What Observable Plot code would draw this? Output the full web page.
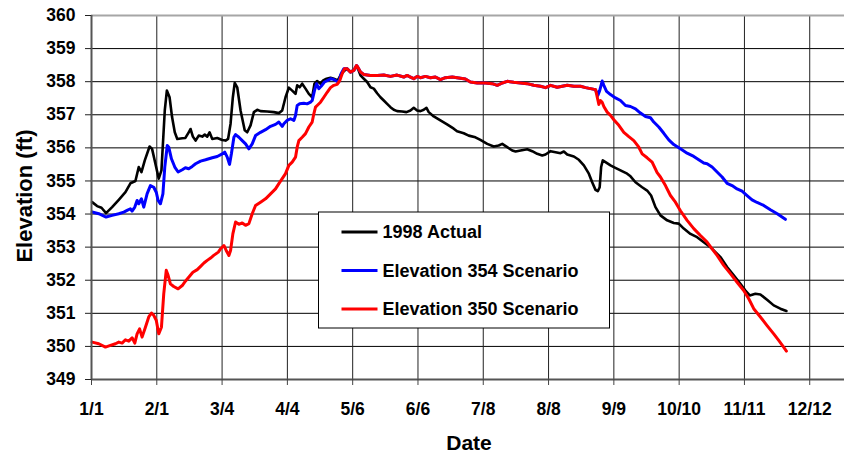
<!DOCTYPE html>
<html>
<head>
<meta charset="utf-8">
<script src="https://cdn.jsdelivr.net/npm/d3@7"></script>
<script src="https://cdn.jsdelivr.net/npm/@observablehq/plot@0.6"></script>
<style>
  html, body { margin: 0; padding: 0; background: #fff; }
  svg { display: block; }
</style>
</head>
<body>
<div id="chart"></div>
<script>
// ---- Data (x = days after 1/1/1998, y = elevation in ft) ----
const xTickLabels = ["1/1","2/1","3/4","4/4","5/6","6/6","7/8","8/8","9/9","10/10","11/11","12/12"];
const yTicks = [349,350,351,352,353,354,355,356,357,358,359,360];
const seriesNames = ["1998 Actual","Elevation 354 Scenario","Elevation 350 Scenario"];
const seriesColors = ["#000000","#0000ff","#ff0000"];

const actual1998 = [
[0.3,354.36],[2.7,354.24],[4.8,354.19],[7.0,354.03],[9.9,354.21],[13.1,354.43],[16.3,354.66],[18.7,354.93],[21.1,355.0],[22.7,355.42],[24.0,355.27],[25.6,355.62],[27.9,356.04],[29.1,355.97],[30.7,355.52],[32.3,355.07],[33.6,355.32],[35.2,357.13],[36.2,357.73],[37.5,357.53],[38.7,356.93],[40.0,356.47],[41.2,356.27],[43.6,356.29],[45.1,356.30],[46.7,356.47],[47.6,356.57],[48.7,356.34],[50.0,356.22],[51.5,356.37],[53.2,356.34],[54.4,356.40],[55.6,356.34],[56.7,356.47],[58.0,356.27],[60.4,356.30],[62.8,356.24],[64.4,356.22],[65.6,356.27],[66.8,356.73],[67.9,357.53],[68.8,357.96],[70.0,357.83],[71.6,357.13],[73.6,356.53],[74.8,356.47],[76.4,356.68],[78.0,357.08],[79.6,357.15],[81.2,357.11],[84.4,357.10],[87.6,357.08],[90.0,357.05],[91.6,357.13],[93.2,357.53],[94.8,357.82],[96.4,357.73],[98.0,357.63],[98.8,357.89],[100.0,357.83],[101.2,357.94],[102.8,357.79],[104.4,357.63],[106.0,357.53],[107.1,357.94],[108.4,358.02],[110.0,357.94],[111.3,358.04],[112.9,358.09],[114.8,358.12],[116.4,358.09],[118.3,358.04],[119.6,358.19],[121.2,358.32],[122.8,358.39],[124.4,358.29],[126.0,358.36],[127.6,358.46],[129.2,358.19],[130.8,358.09],[132.4,357.99],[134.0,357.83],[135.6,357.79],[137.2,357.65],[138.8,357.53],[140.4,357.43],[142.0,357.33],[143.6,357.23],[145.2,357.15],[146.8,357.11],[149.2,357.10],[151.3,357.08],[153.2,357.13],[154.8,357.21],[156.4,357.13],[158.0,357.11],[159.6,357.15],[160.9,357.21],[162.0,357.08],[164.4,356.95],[167.6,356.83],[170.8,356.71],[174.0,356.58],[175.6,356.50],[178.8,356.44],[181.2,356.37],[184.4,356.32],[186.8,356.24],[190.1,356.12],[193.2,356.04],[195.6,356.07],[197.3,356.12],[199.7,356.02],[202.1,355.92],[203.7,355.89],[206.1,355.92],[209.3,355.96],[211.7,355.90],[214.1,355.82],[216.5,355.77],[218.1,355.80],[220.5,355.90],[222.9,355.87],[225.3,355.84],[226.9,355.89],[228.5,355.80],[231.7,355.74],[234.1,355.64],[236.5,355.47],[238.9,355.22],[240.5,354.96],[242.1,354.73],[243.2,354.69],[244.1,354.81],[244.8,355.42],[245.6,355.62],[246.9,355.57],[249.3,355.47],[250.9,355.42],[254.1,355.32],[257.3,355.22],[258.9,355.14],[261.3,354.96],[264.5,354.81],[266.9,354.71],[268.8,354.56],[270.9,354.21],[273.3,353.96],[276.5,353.81],[279.7,353.73],[282.1,353.71],[284.5,353.56],[287.7,353.40],[290.9,353.30],[294.1,353.15],[297.3,353.00],[299.7,352.85],[302.1,352.70],[305.3,352.40],[308.5,352.15],[311.7,351.89],[314.1,351.69],[316.2,351.54],[318.9,351.59],[321.3,351.57],[324.5,351.41],[327.7,351.24],[330.9,351.14],[333.8,351.07]
];

const scenario354 = [
[0.3,354.06],[3.5,354.01],[7.0,353.91],[9.9,353.96],[13.1,354.01],[15.5,354.06],[17.1,354.11],[18.7,354.16],[19.5,354.09],[20.8,354.21],[21.9,354.41],[22.7,354.31],[24.0,354.46],[25.1,354.21],[26.7,354.61],[28.3,354.86],[29.9,354.81],[31.1,354.66],[32.0,354.41],[33.1,354.31],[34.3,354.61],[35.2,355.42],[36.4,356.07],[37.1,356.02],[38.4,355.67],[40.0,355.42],[41.6,355.27],[43.6,355.34],[45.1,355.40],[46.7,355.37],[48.4,355.44],[50.0,355.52],[52.4,355.60],[54.8,355.64],[58.0,355.70],[60.4,355.74],[62.8,355.82],[64.0,355.87],[65.2,355.72],[66.3,355.50],[67.2,355.82],[68.4,356.32],[69.2,356.40],[70.8,356.32],[72.4,356.22],[74.0,356.12],[75.6,355.97],[77.2,356.12],[78.8,356.37],[81.2,356.47],[83.6,356.55],[86.0,356.65],[88.4,356.71],[90.0,356.78],[91.6,356.65],[92.4,356.73],[94.0,356.83],[95.6,356.88],[97.2,356.83],[98.0,356.98],[98.8,357.28],[100.0,357.33],[102.0,357.35],[103.6,357.33],[105.2,357.38],[106.0,357.43],[107.1,357.73],[108.1,357.94],[109.2,357.79],[110.3,357.86],[111.9,357.99],[113.5,358.04],[115.1,358.09],[116.4,358.06],[117.7,358.02],[118.8,357.99],[119.9,358.24],[121.2,358.39],
[122.8,358.39],[124.4,358.29],[126.0,358.34],[127.3,358.49],[127.9,358.44],[129.2,358.29],[130.8,358.22],[134.0,358.19],[137.2,358.19],[140.4,358.20],[143.6,358.16],[146.8,358.20],[150.0,358.14],[151.6,358.19],[153.2,358.14],[154.8,358.09],[156.4,358.16],[158.0,358.12],[160.4,358.16],[162.8,358.12],[165.2,358.14],[167.6,358.06],[170.0,358.12],[173.3,358.14],[176.4,358.11],[179.6,358.08],[182.0,357.99],[185.3,357.96],[189.2,357.96],[192.5,357.94],[194.9,357.89],[197.3,357.96],[199.7,358.01],[202.8,357.98],[206.1,357.96],[209.3,357.94],[212.4,357.89],[215.7,357.86],[218.1,357.82],[220.5,357.89],[223.7,357.83],[226.1,357.86],[228.5,357.89],[231.7,357.86],[234.9,357.86],[237.3,357.82],[239.7,357.79],[242.1,357.76],
[243.2,357.58],[244.1,357.73],[245.3,358.02],[246.1,357.89],[247.4,357.71],[249.3,357.61],[251.7,357.51],[254.1,357.43],[256.5,357.28],[258.9,357.25],[261.3,357.18],[263.7,357.05],[266.1,356.95],[268.5,356.91],[270.1,356.78],[272.5,356.63],[274.9,356.44],[277.3,356.24],[279.7,356.10],[282.9,355.97],[286.1,355.84],[289.3,355.74],[291.7,355.64],[294.1,355.54],[295.7,355.52],[298.1,355.42],[300.5,355.27],[302.9,355.12],[305.3,354.93],[307.7,354.86],[310.1,354.76],[312.5,354.69],[314.9,354.56],[317.3,354.43],[319.7,354.35],[322.9,354.26],[326.1,354.13],[329.4,354.01],[331.7,353.91],[333.3,353.84]
];

const scenario350 = [
[0.3,350.13],[3.5,350.08],[6.7,349.98],[9.1,350.03],[11.5,350.08],[13.1,350.13],[14.7,350.10],[16.3,350.20],[17.9,350.16],[19.5,350.26],[20.8,350.10],[21.9,350.38],[23.1,350.53],[24.3,350.28],[25.9,350.58],[27.5,350.89],[28.8,351.01],[29.9,350.94],[31.1,350.79],[32.3,350.38],[33.6,350.58],[34.7,351.59],[35.9,352.30],[36.8,352.15],[37.9,351.89],[39.5,351.81],[41.6,351.74],[43.6,351.84],[45.1,351.97],[46.7,352.09],[48.7,352.24],[50.8,352.32],[52.4,352.42],[54.0,352.52],[55.6,352.60],[57.2,352.67],[58.7,352.75],[60.9,352.85],[62.0,352.95],[63.6,353.05],[64.7,352.90],[66.0,352.75],[66.8,352.90],[67.9,353.40],[69.2,353.76],[70.8,353.69],[72.4,353.73],[74.0,353.66],[75.6,353.71],[77.2,354.01],[78.8,354.26],[81.2,354.36],[83.6,354.46],[86.0,354.61],[88.4,354.76],[90.0,354.92],[91.6,355.07],[93.2,355.22],[94.8,355.47],[96.4,355.57],[98.0,355.72],[98.8,356.02],[99.6,356.22],[101.2,356.32],[102.8,356.43],[104.4,356.63],[106.0,356.78],[106.8,357.03],[107.6,357.23],[108.4,357.28],[110.0,357.38],[111.6,357.53],[113.2,357.68],[114.8,357.82],[116.4,357.89],[118.0,357.92],[119.3,358.04],[120.4,358.24],[121.5,358.39],
[122.8,358.39],[124.4,358.29],[126.0,358.34],[127.3,358.49],[127.9,358.44],[129.2,358.29],[130.8,358.22],[134.0,358.19],[137.2,358.19],[140.4,358.20],[143.6,358.16],[146.8,358.20],[150.0,358.14],[151.6,358.19],[153.2,358.14],[154.8,358.09],[156.4,358.16],[158.0,358.12],[160.4,358.16],[162.8,358.12],[165.2,358.14],[167.6,358.06],[170.0,358.12],[173.3,358.14],[176.4,358.11],[179.6,358.08],[182.0,357.99],[185.3,357.96],[189.2,357.96],[192.5,357.94],[194.9,357.89],[197.3,357.96],[199.7,358.01],[202.8,357.98],[206.1,357.96],[209.3,357.94],[212.4,357.89],[215.7,357.86],[218.1,357.82],[220.5,357.89],[223.7,357.83],[226.1,357.86],[228.5,357.89],[231.7,357.86],[234.9,357.86],[237.3,357.82],[239.7,357.79],[242.1,357.76],
[242.6,357.63],[243.7,357.31],[244.5,357.43],[245.3,357.38],[246.1,357.25],[247.7,357.08],[249.3,356.98],[250.9,356.85],[253.3,356.68],[255.7,356.47],[258.1,356.34],[260.5,356.22],[262.9,356.02],[264.5,355.82],[266.9,355.70],[269.3,355.57],[271.7,355.25],[273.3,355.12],[275.7,354.86],[278.1,354.56],[280.5,354.36],[282.9,354.10],[286.1,353.81],[289.3,353.56],[292.5,353.35],[295.7,353.15],[298.1,352.95],[300.5,352.75],[303.7,352.45],[306.9,352.20],[310.1,351.94],[313.3,351.69],[315.7,351.44],[318.1,351.14],[321.3,350.89],[324.5,350.63],[327.7,350.38],[330.1,350.18],[332.2,350.00],[333.8,349.86]
];

// ---- Chart ----
const lastTickDay = 345;                       // 12/12
const xTickPos = xTickLabels.map((_, i) => i * lastTickDay / (xTickLabels.length - 1));
const xFmt = d => xTickLabels[xTickPos.indexOf(d)] ?? "";
const series = [actual1998, scenario354, scenario350];

const plot = Plot.plot({
  width: 844,
  height: 455,
  marginLeft: 91,
  marginRight: 0,
  marginTop: 15,
  marginBottom: 76,
  x: {domain: [0, 361.7]},
  y: {domain: [349, 360]},
  style: {fontFamily: "'Liberation Sans', Arial, sans-serif", fontWeight: "bold", background: "#fff", color: "#000", overflow: "visible"},
  marks: [
    Plot.gridY(yTicks.filter(v => v < 360), {stroke: "#000", strokeOpacity: 1, strokeWidth: 1}),
    Plot.gridX(xTickPos.slice(1), {stroke: "#222", strokeOpacity: 1, strokeWidth: 1}),
    Plot.ruleY([360], {stroke: "#a6a6a6", strokeWidth: 2}),
    ...series.map((s, i) => Plot.line(s, {
      x: d => d[0], y: d => d[1],
      stroke: seriesColors[i], strokeWidth: i === 0 ? 2.6 : 3,
      strokeLinejoin: "round", strokeLinecap: "round"
    })),
    Plot.ruleX([0], {stroke: "#555", strokeWidth: 2}),
    Plot.ruleY([349], {stroke: "#555", strokeWidth: 2}),
    Plot.axisY(yTicks, {tickSize: 6, tickPadding: 10, fontSize: 17.5, label: null, stroke: "#222"}),
    Plot.axisX(xTickPos, {tickFormat: xFmt, tickSize: 6, tickPadding: 17, fontSize: 17.5, label: null, stroke: "#444"})
  ]
});

document.getElementById("chart").appendChild(plot);

// ---- Titles and legend (added onto the plot's SVG) ----
const svg = d3.select(plot);
svg.append("text")
  .attr("transform", "translate(32,196) rotate(-90)")
  .attr("text-anchor", "middle")
  .attr("font-size", 22)
  .attr("font-weight", "bold")
  .attr("fill", "#000")
  .text("Elevation (ft)");
svg.append("text")
  .attr("x", 469).attr("y", 450)
  .attr("text-anchor", "middle")
  .attr("font-size", 21)
  .attr("font-weight", "bold")
  .attr("fill", "#000")
  .text("Date");

const lg = svg.append("g").attr("transform", "translate(318.5,212)");
lg.append("rect").attr("width", 291).attr("height", 116)
  .attr("fill", "#fff").attr("stroke", "#000").attr("stroke-width", 1);
seriesNames.forEach((name, i) => {
  const yy = 20 + i * 38.5;
  lg.append("line").attr("x1", 23).attr("x2", 59).attr("y1", yy).attr("y2", yy)
    .attr("stroke", seriesColors[i]).attr("stroke-width", 3);
  lg.append("text").attr("x", 64).attr("y", yy).attr("dy", "0.36em")
    .attr("text-anchor", "start")
    .attr("font-size", 18).attr("font-weight", "bold").attr("fill", "#000")
    .text(name);
});
</script>
</body>
</html>
